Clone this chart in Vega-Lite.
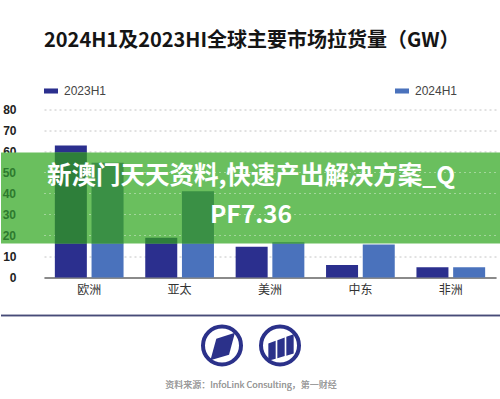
{
  "$schema": "https://vega.github.io/schema/vega-lite/v6.json",
  "background": "white",
  "padding": {"left": 0, "top": 30.5, "right": 0, "bottom": 0},
  "spacing": 19,
  "resolve": {"scale": {"x": "independent", "y": "independent", "color": "independent", "shape": "independent"}, "axis": {"x": "independent", "y": "independent"}, "legend": {"color": "independent", "shape": "independent"}},
  "config": {"view": {"stroke": null}},
  "datasets": {
    "shipments": [
      {"region": "欧洲", "series": "2023H1", "value": 62.9},
      {"region": "欧洲", "series": "2024H1", "value": 54.6},
      {"region": "亚太", "series": "2023H1", "value": 18.9},
      {"region": "亚太", "series": "2024H1", "value": 41.1},
      {"region": "美洲", "series": "2023H1", "value": 14.6},
      {"region": "美洲", "series": "2024H1", "value": 16.8},
      {"region": "中东", "series": "2023H1", "value": 6.0},
      {"region": "中东", "series": "2024H1", "value": 15.7},
      {"region": "非洲", "series": "2023H1", "value": 4.9},
      {"region": "非洲", "series": "2024H1", "value": 4.9}
    ],
    "bannerTicks": [{"tick": 20}, {"tick": 30}, {"tick": 40}, {"tick": 50}],
    "logos": [{"logo": "A", "order": 1}, {"logo": "B", "order": 2}]
  },
  "vconcat": [
    {
      "width": 452,
      "height": 168,
      "title": {
        "text": "2024H1及2023HI全球主要市场拉货量（GW）",
        "anchor": "start",
        "frame": "group",
        "font": "Noto Sans CJK SC",
        "fontSize": 20,
        "fontWeight": "bold",
        "color": "#151515",
        "offset": 33
      },
      "resolve": {"scale": {"x": "independent", "y": "independent", "color": "independent", "xOffset": "independent"}, "axis": {"x": "independent", "y": "independent"}, "legend": {"color": "independent"}},
      "layer": [
        {
          "data": {"name": "shipments"},
          "mark": {"type": "bar"},
          "encoding": {
            "x": {
              "field": "region", "type": "nominal",
              "sort": ["欧洲", "亚太", "美洲", "中东", "非洲"],
              "scale": {"paddingInner": 0.24, "paddingOuter": 0.12},
              "axis": {"title": null, "labelAngle": 0, "ticks": false, "labelPadding": 7, "labelFont": "Noto Sans CJK SC", "labelFontSize": 12, "labelColor": "#333333", "domainColor": "#8a8a8a", "domainWidth": 2, "grid": false}
            },
            "xOffset": {"field": "series", "type": "nominal", "scale": {"paddingInner": 0.128, "paddingOuter": 0}},
            "y": {
              "field": "value", "type": "quantitative",
              "scale": {"domain": [0, 80], "nice": false},
              "axis": {"title": null, "values": [0, 10, 20, 30, 40, 50, 60, 70, 80], "labelOverlap": false, "domain": false, "ticks": false, "labelPadding": 28, "labelFont": "Liberation Sans", "labelFontSize": 12, "labelFontWeight": "bold", "labelColor": "#222222", "gridColor": "#c4c4c4", "gridDash": [2, 3], "gridWidth": 1}
            },
            "color": {
              "field": "series", "type": "nominal",
              "scale": {"domain": ["2023H1", "2024H1"], "range": ["#2b2f8e", "#4a72bc"]},
              "legend": {
                "title": null, "orient": "none", "direction": "horizontal",
                "legendX": 0, "legendY": -25.5, "padding": 0,
                "symbolType": "M-1,-0.36H1V0.36H-1Z", "symbolSize": 196, "symbolStrokeWidth": 0,
                "labelFont": "Liberation Sans", "labelFontSize": 12, "labelColor": "#444444", "labelOffset": 6,
                "columnPadding": 288
              }
            }
          }
        },
        {
          "data": {"values": [{}]},
          "mark": {"type": "rect", "fill": "#6abf5e", "strokeWidth": 0},
          "encoding": {
            "x": {"datum": -0.0951, "type": "quantitative", "scale": {"domain": [0, 1], "nice": false, "zero": false}, "axis": null},
            "x2": {"datum": 1.0111},
            "y": {"datum": 59.5, "type": "quantitative", "scale": {"domain": [0, 80], "nice": false}, "axis": null},
            "y2": {"datum": 16.2}
          }
        },
        {
          "data": {"name": "bannerTicks"},
          "mark": {"type": "rule", "color": "#a3d69b", "strokeDash": [2, 3], "strokeWidth": 1},
          "encoding": {
            "x": {"datum": 0, "type": "quantitative", "scale": {"domain": [0, 1], "nice": false, "zero": false}, "axis": null},
            "x2": {"datum": 1},
            "y": {"field": "tick", "type": "quantitative", "scale": {"domain": [0, 80], "nice": false}, "axis": null}
          }
        },
        {
          "data": {"name": "shipments"},
          "mark": {"type": "bar"},
          "encoding": {
            "x": {
              "field": "region", "type": "nominal",
              "sort": ["欧洲", "亚太", "美洲", "中东", "非洲"],
              "scale": {"paddingInner": 0.24, "paddingOuter": 0.12},
              "axis": null
            },
            "xOffset": {"field": "series", "type": "nominal", "scale": {"paddingInner": 0.128, "paddingOuter": 0}},
            "y": {"field": "value", "type": "quantitative", "scale": {"domain": [16.2, 59.5], "range": [133.98, 43.05], "clamp": true, "nice": false, "zero": false}, "axis": null},
            "y2": {"datum": 16.2},
            "color": {
              "field": "series", "type": "nominal",
              "scale": {"domain": ["2023H1", "2024H1"], "range": ["#2e7f3a", "#3a9045"]},
              "legend": null
            }
          }
        },
        {
          "data": {"name": "bannerTicks"},
          "mark": {"type": "text", "align": "right", "baseline": "middle", "font": "Liberation Sans", "fontSize": 12, "fontWeight": "bold", "color": "#2e7a2e"},
          "encoding": {
            "x": {"datum": -0.0619, "type": "quantitative", "scale": {"domain": [0, 1], "nice": false, "zero": false}, "axis": null},
            "y": {"field": "tick", "type": "quantitative", "scale": {"domain": [0, 80], "nice": false}, "axis": null},
            "text": {"field": "tick", "type": "quantitative"}
          }
        },
        {
          "data": {"values": [{}]},
          "mark": {
            "type": "text",
            "text": ["新澳门天天资料,快速产出解决方案_Q", "PF7.36"],
            "font": "Noto Sans CJK SC", "fontSize": 24.5, "fontWeight": "bold",
            "color": "white", "align": "center", "baseline": "middle",
            "lineHeight": 39.5, "dx": -19
          },
          "encoding": {
            "y": {"datum": 48, "type": "quantitative", "scale": {"domain": [0, 80], "nice": false}, "axis": null}
          }
        }
      ]
    },
    {
      "width": 452,
      "height": 80,
      "data": {"name": "logos"},
      "layer": [
        {
          "mark": {"type": "rule", "color": "#474b78", "strokeWidth": 1.5},
          "encoding": {
            "x": {"datum": -2.81, "type": "quantitative", "scale": {"domain": [-2.069, 5.724], "nice": false, "zero": false}, "axis": null},
            "x2": {"datum": 5.81},
            "y": {"datum": 10, "type": "quantitative", "scale": {"domain": [0, 10], "nice": false}, "axis": null}
          }
        },
        {
          "mark": {"type": "point", "shape": "circle", "filled": false, "stroke": "#2b318a", "strokeWidth": 4, "size": 1444, "opacity": 1},
          "encoding": {
            "x": {"field": "order", "type": "quantitative", "axis": null},
            "y": {"datum": 6.25, "type": "quantitative", "axis": null}
          }
        },
        {
          "mark": {"type": "point", "filled": true, "color": "#2b318a", "size": 1444, "opacity": 1, "strokeWidth": 0},
          "encoding": {
            "x": {"field": "order", "type": "quantitative", "axis": null},
            "y": {"datum": 6.25, "type": "quantitative", "axis": null},
            "shape": {
              "field": "logo", "type": "nominal",
              "scale": {"domain": ["A", "B"], "range": [
                "M-0.30,-0.35L0.68,-0.67L0.37,0.49L-0.61,0.77Z",
                "M-0.614,-0.105L-0.228,-0.247L-0.228,0.695L-0.614,0.807ZM-0.140,-0.279L0.246,-0.421L0.246,0.558L-0.140,0.670ZM0.333,-0.454L0.719,-0.596L0.719,0.421L0.333,0.533Z"
              ]},
              "legend": null
            }
          }
        },
        {
          "mark": {"type": "text", "text": "资料来源：InfoLink Consulting，第一财经", "font": "Noto Sans CJK SC", "fontSize": 9, "color": "#9a9a9a", "align": "center", "baseline": "middle", "dx": -19},
          "encoding": {
            "y": {"datum": 1.375, "type": "quantitative", "axis": null}
          }
        }
      ]
    }
  ]
}
